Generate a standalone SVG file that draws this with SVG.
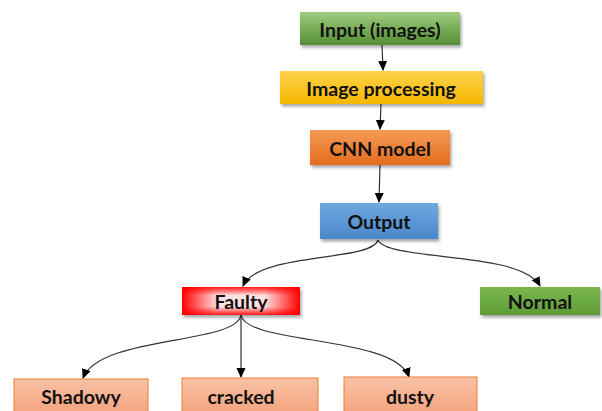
<svg xmlns="http://www.w3.org/2000/svg" width="602" height="411" viewBox="0 0 602 411">
<style>
.lbl{font-family:Lato,"Open Sans","Liberation Sans",sans-serif;font-weight:bold;font-size:19.5px;fill:#111;text-anchor:middle;dominant-baseline:central}
.con{fill:none;stroke:#333;stroke-width:1.2;marker-end:url(#ah)}
</style>
<defs>
<marker id="ah" markerWidth="10" markerHeight="10" refX="9" refY="5" orient="auto" markerUnits="userSpaceOnUse">
<path d="M0,0.5 L10,5 L0,9.5 Z" fill="#000"/>
</marker>
<filter id="sh" x="-10%" y="-20%" width="130%" height="160%">
<feDropShadow dx="1.5" dy="2.5" stdDeviation="1.5" flood-color="#000" flood-opacity="0.35"/>
</filter>
<linearGradient id="gGreen" x1="0" y1="0" x2="0" y2="1"><stop offset="0" stop-color="#9fcc80"/><stop offset="1" stop-color="#548f33"/></linearGradient>
<linearGradient id="gYellow" x1="0" y1="0" x2="0" y2="1"><stop offset="0" stop-color="#ffd24d"/><stop offset="1" stop-color="#f5b800"/></linearGradient>
<linearGradient id="gOrange" x1="0" y1="0" x2="0" y2="1"><stop offset="0" stop-color="#f59a55"/><stop offset="1" stop-color="#e46c1e"/></linearGradient>
<linearGradient id="gBlue" x1="0" y1="0" x2="0" y2="1"><stop offset="0" stop-color="#6fa8e0"/><stop offset="1" stop-color="#4a88cc"/></linearGradient>
<linearGradient id="gRedH" x1="0" y1="0" x2="1" y2="0"><stop offset="0" stop-color="#ff0000"/><stop offset="0.3" stop-color="#ff0000" stop-opacity="0"/><stop offset="0.7" stop-color="#ff0000" stop-opacity="0"/><stop offset="1" stop-color="#ff0000"/></linearGradient>
<linearGradient id="gRedV" x1="0" y1="0" x2="0" y2="1"><stop offset="0" stop-color="#ff0000" stop-opacity="0.9"/><stop offset="0.3" stop-color="#ff0000" stop-opacity="0"/><stop offset="0.7" stop-color="#ff0000" stop-opacity="0"/><stop offset="1" stop-color="#ff0000" stop-opacity="0.9"/></linearGradient>
<linearGradient id="gNormal" x1="0" y1="0" x2="0" y2="1"><stop offset="0" stop-color="#7ab84f"/><stop offset="1" stop-color="#5e9b36"/></linearGradient>
<linearGradient id="gPeach" x1="0" y1="0" x2="0" y2="1"><stop offset="0" stop-color="#f9c2a6"/><stop offset="1" stop-color="#f4a47e"/></linearGradient>
</defs>

<g id="connectors">
<path class="con" d="M382,45 L383,70"/>
<path class="con" d="M381,104 L380,129"/>
<path class="con" d="M380,165 L379,202"/>
<path class="con" d="M378,240 C372,262 258,252 243,286"/>
<path class="con" d="M378,240 C388,262 520,250 540,286"/>
<path class="con" d="M241,315 C236,345 100,335 83,378"/>
<path class="con" d="M241,315 L241,377"/>
<path class="con" d="M241,315 C246,345 395,335 409,377"/>
</g>

<g id="input">
<rect x="300" y="12" width="160" height="33" fill="url(#gGreen)" filter="url(#sh)"/>
<text class="lbl" x="380" y="29">Input (images)</text>
</g>
<g id="imageprocessing">
<rect x="280" y="71" width="203" height="33" fill="url(#gYellow)" filter="url(#sh)"/>
<text class="lbl" x="381" y="88">Image processing</text>
</g>
<g id="cnn">
<rect x="310" y="130" width="140" height="35" fill="url(#gOrange)" filter="url(#sh)"/>
<text class="lbl" x="380" y="148">CNN model</text>
</g>
<g id="output">
<rect x="320" y="203" width="118" height="36" fill="url(#gBlue)" filter="url(#sh)"/>
<text class="lbl" x="379" y="221">Output</text>
</g>
<g id="faulty">
<rect x="182" y="287" width="118" height="28" fill="#ffe0e0" filter="url(#sh)"/>
<rect x="182" y="287" width="118" height="28" fill="url(#gRedH)"/>
<rect x="182" y="287" width="118" height="28" fill="url(#gRedV)"/>
<text class="lbl" x="241" y="301">Faulty</text>
</g>
<g id="normal">
<rect x="480" y="287" width="120" height="28" fill="url(#gNormal)" filter="url(#sh)"/>
<text class="lbl" x="540" y="301">Normal</text>
</g>
<g id="shadowy">
<rect x="14" y="379" width="134" height="34" fill="url(#gPeach)" stroke="#ed7d31" stroke-width="1"/>
<text class="lbl" x="81" y="396">Shadowy</text>
</g>
<g id="cracked">
<rect x="182" y="378" width="136" height="35" fill="url(#gPeach)" stroke="#ed7d31" stroke-width="1"/>
<text class="lbl" x="241" y="396">cracked</text>
</g>
<g id="dusty">
<rect x="344" y="377" width="133" height="36" fill="url(#gPeach)" stroke="#ed7d31" stroke-width="1"/>
<text class="lbl" x="410" y="396">dusty</text>
</g>
</svg>
